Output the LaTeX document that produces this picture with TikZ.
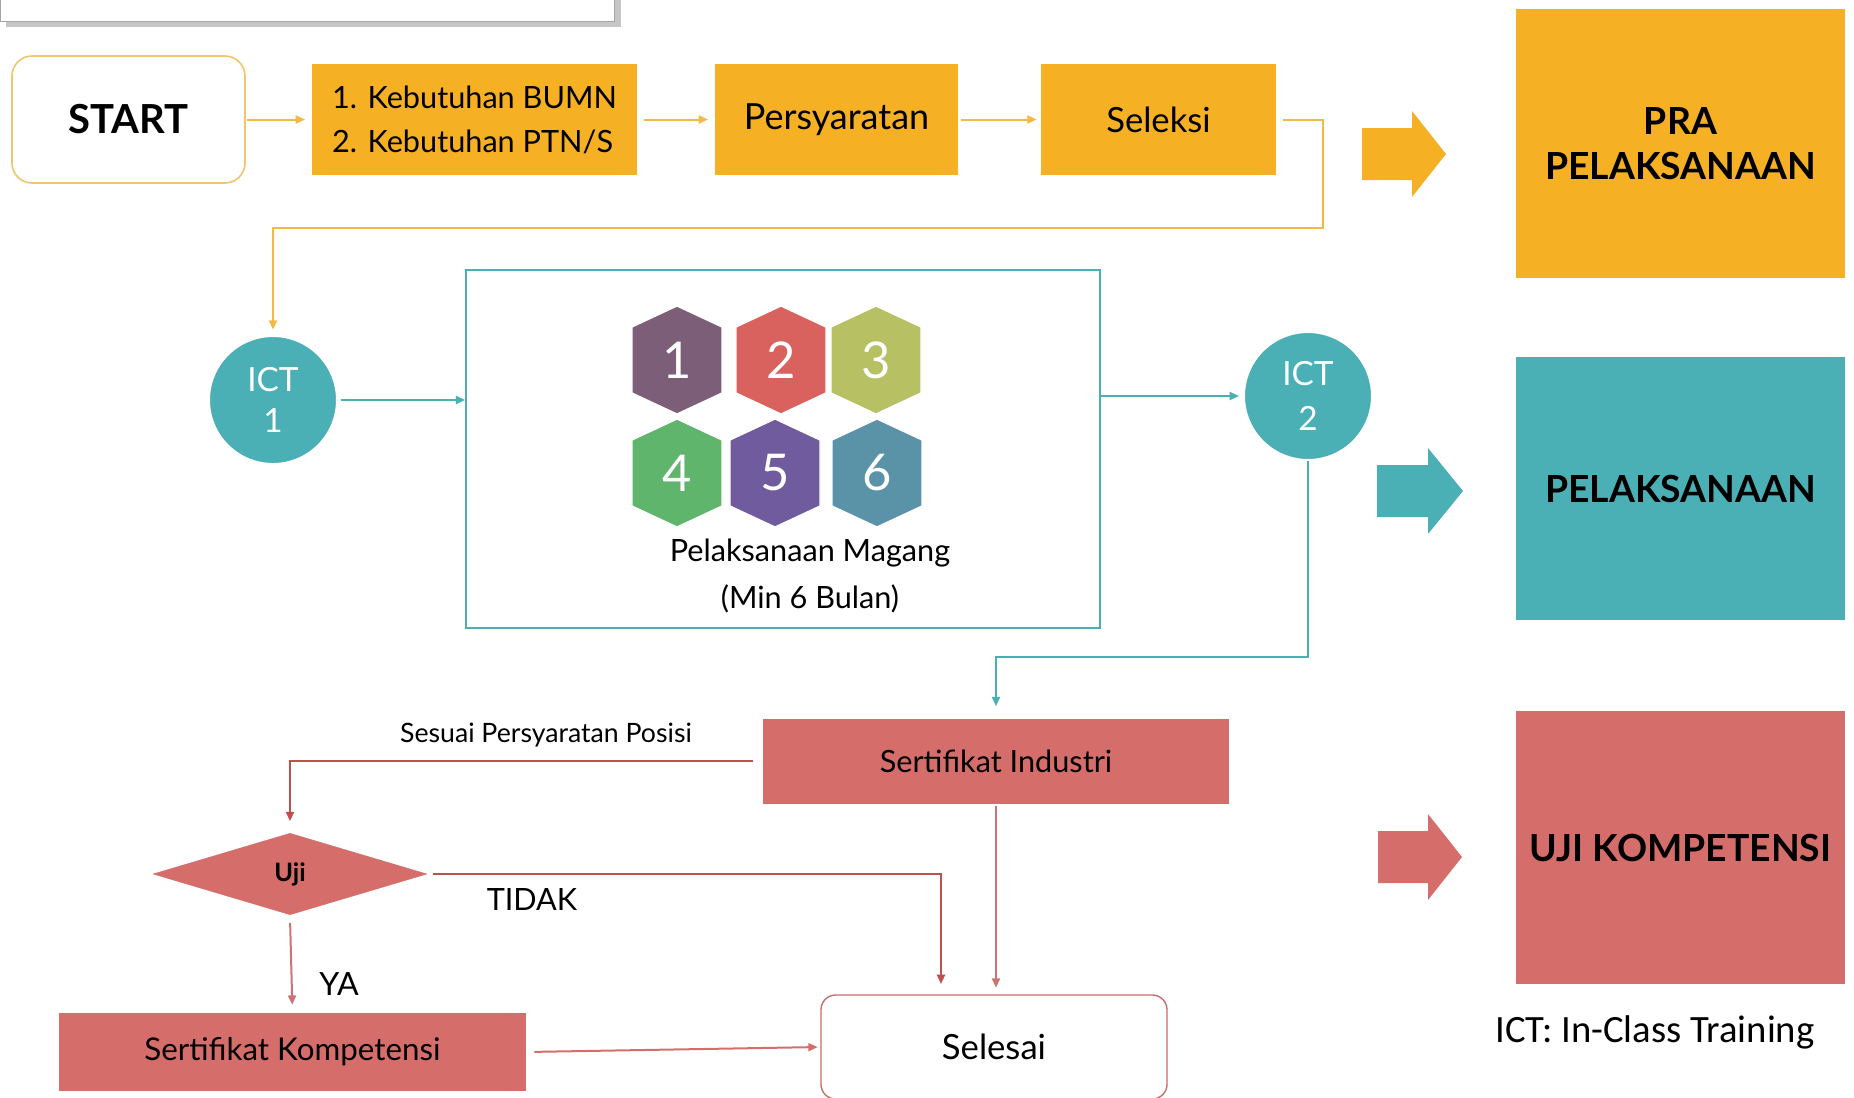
\documentclass[tikz,border=0pt]{standalone}
\usepackage{fontspec}
\setmainfont{Lato}
\newfontfamily\calibri{Carlito}
\usetikzlibrary{arrows.meta,shapes.geometric}
\definecolor{oranye}{RGB}{246,176,35}
\definecolor{garisoranye}{RGB}{243,185,70}
\definecolor{garisstart}{RGB}{241,196,110}
\definecolor{tosca}{RGB}{74,176,181}
\definecolor{merahbata}{RGB}{213,110,106}
\definecolor{garismerah}{RGB}{192,80,78}
\definecolor{hexA}{RGB}{125,94,120}
\definecolor{hexB}{RGB}{217,98,94}
\definecolor{hexC}{RGB}{183,193,99}
\definecolor{hexD}{RGB}{95,181,108}
\definecolor{hexE}{RGB}{111,91,157}
\definecolor{hexF}{RGB}{90,147,168}

\begin{document}
\begin{tikzpicture}[x=0.75pt,y=0.75pt,yscale=-1,xscale=1,
	ukuran/.style 2 args={minimum width=#1*0.75pt,minimum height=#2*0.75pt},
	kotakoranye/.style={fill=oranye,inner sep=0pt},
	kotakmerah/.style={fill=merahbata,inner sep=0pt},
	kotakbesar/.style={inner sep=0pt,align=center,font=\fontsize{28}{34}\selectfont\bfseries,minimum width=329*0.75pt,minimum height=#1*0.75pt},
	ict/.style={circle,fill=tosca,draw=white,line width=1.5pt,text=white,align=center,inner sep=0pt,minimum size=128*0.75pt},
	panah/.style={-{Triangle[length=7pt,width=6pt]},line width=1.5pt},
	]
	\useasboundingbox (0,0) rectangle (1854,1097);
	% kotak judul yang terpotong
	\fill[gray!45] (6,-5) rectangle (621,27);
	\fill[white] (0,-5) rectangle (614,21);
	\draw[gray!70,line width=0.6pt] (0,-5) -- (0,21) -- (614,21) -- (614,-5);

	% baris atas
	\node[draw=garisstart,line width=1.2pt,rounded corners=15pt,fill=white,ukuran={233}{127},font=\fontsize{30}{36}\selectfont\bfseries] (start) at (128.5,119.5) {START};
	\node[kotakoranye,ukuran={325}{111},align=left,font=\fontsize{23}{33}\selectfont] (kebutuhan) at (474.5,119.5) {1. Kebutuhan BUMN\\2. Kebutuhan PTN/S};
	\node[kotakoranye,ukuran={243}{111},font=\fontsize{27}{30}\selectfont] (persyaratan) at (836.5,119.5) {Persyaratan};
	\node[kotakoranye,ukuran={235}{111},font=\fontsize{26}{30}\selectfont] (seleksi) at (1158.5,119.5) {Seleksi};
	\coordinate (belok1) at (1323,228);

	% pelaksanaan magang
	\node[ict,font=\fontsize{25}{31}\selectfont] (ict1) at (273,400) {ICT\\1};
	\node[draw=tosca,line width=1.2pt,ukuran={634}{358}] (magang) at (783,449) {};
	\foreach \x/\y/\warna/\n in {677/360/hexA/1, 781/360/hexB/2, 876/360/hexC/3, 677/473/hexD/4, 775/473/hexE/5, 877/473/hexF/6}
	{
		\filldraw[fill=\warna,draw=white,line width=1pt] (\x,\y-54) -- (\x+45,\y-33) -- (\x+45,\y+33) -- (\x,\y+54) -- (\x-45,\y+33) -- (\x-45,\y-33) -- cycle;
		\node[text=white,font=\fontsize{38}{40}\selectfont] (h\n) at (\x,\y) {\n};
	}
	\node[align=center,font=\fontsize{23}{35}\selectfont] (teksmagang) at (810,576) {Pelaksanaan Magang\\(Min 6 Bulan)};
	\node[ict,font=\fontsize{25}{34}\selectfont] (ict2) at (1308,396) {ICT\\2};
	\coordinate (belok2) at (1308,657);

	% uji kompetensi
	\node[kotakmerah,ukuran={466}{85},font=\fontsize{23}{28}\selectfont] (sertind) at (996,761) {Sertifikat Industri};
	\node[diamond,fill=merahbata,draw=white,line width=1.5pt,inner sep=0pt,ukuran={284}{85},font=\fontsize{19}{22}\selectfont\bfseries] (uji) at (290,874) {Uji};
	\node[kotakmerah,ukuran={467}{78},font=\fontsize{23.5}{28}\selectfont] (sertkomp) at (292.5,1052) {Sertifikat Kompetensi};
	\node[draw=garismerah!85,line width=1pt,rounded corners=11pt,fill=white,ukuran={346}{104},font=\fontsize{26}{30}\selectfont] (selesai) at (994,1047) {Selesai};
	\coordinate (tidak) at (941,984);
	\node[font=\fontsize{20}{22}\selectfont] (sesuai) at (546,735) {Sesuai Persyaratan Posisi};
	\node[font=\fontsize{23}{26}\selectfont] (labeltidak) at (532,899) {TIDAK};
	\node[font=\fontsize{24}{26}\selectfont] (labelya) at (339,984) {YA};

	% panah
	\draw[panah,garisoranye,shorten <=1pt,shorten >=5pt] (start) -- (kebutuhan);
	\draw[panah,garisoranye,shorten <=5pt,shorten >=5pt] (kebutuhan) -- (persyaratan);
	\draw[panah,garisoranye,shorten <=2pt,shorten >=3pt] (persyaratan) -- (seleksi);
	\draw[panah,garisoranye,shorten <=5pt,shorten >=4pt] (seleksi.east) -| (belok1) -| (ict1.north);
	\draw[panah,tosca,shorten <=2pt] (ict1.east) -- (ict1 -| magang.west);
	\draw[panah,tosca,shorten >=3pt] (magang.east |- ict2) -- (ict2.west);
	\draw[panah,tosca,shorten >=9pt] (ict2.south) -- (belok2) -| (sertind.north);
	\draw[panah,garismerah,shorten <=7pt,shorten >=7pt] (sertind.west) -| (uji.north);
	\draw[panah,garismerah] (uji.east) -| (tidak);
	\draw[panah,garismerah!80,shorten <=2pt,shorten >=5pt] (sertind.south) -- (sertind.south |- selesai.north);
	\draw[panah,garismerah!80,shorten <=4pt,shorten >=6pt] (uji.south) -- (sertkomp.north);
	\draw[panah,merahbata,shorten <=6pt,shorten >=2pt] (sertkomp.east) -- (selesai.west);

	% kolom kanan
	\fill[oranye] (1362,128) -- (1412,128) -- (1412,111) -- (1446,154) -- (1412,197) -- (1412,180) -- (1362,180) -- cycle;
	\fill[tosca] (1377,465) -- (1428,465) -- (1428,448) -- (1463,491) -- (1428,534) -- (1428,517) -- (1377,517) -- cycle;
	\fill[merahbata] (1378,831) -- (1428,831) -- (1428,814) -- (1462,857) -- (1428,900) -- (1428,883) -- (1378,883) -- cycle;
	\node[kotakbesar=269,fill=oranye] (pra) at (1680.5,143.5) {PRA\\PELAKSANAAN};
	\node[kotakbesar=263,fill=tosca] (pelaksanaan) at (1680.5,488.5) {PELAKSANAAN};
	\node[kotakbesar=273,fill=merahbata] (ujikomp) at (1680.5,847.5) {UJI KOMPETENSI};
	\node[font=\fontsize{29}{32}\calibri] (legenda) at (1655,1032) {ICT: In-Class Training};
\end{tikzpicture}
\end{document}
